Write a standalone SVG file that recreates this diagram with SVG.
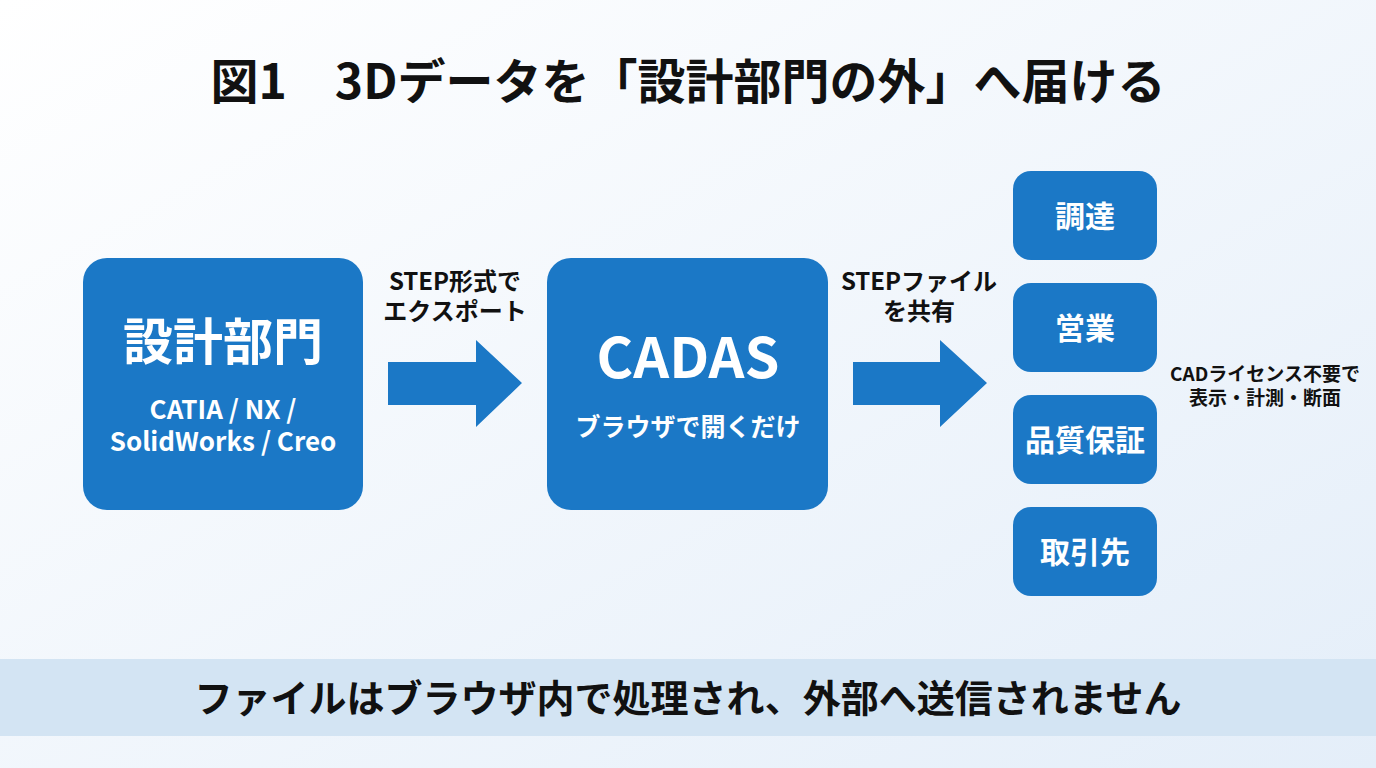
<svg xmlns="http://www.w3.org/2000/svg" width="1376" height="768" viewBox="0 0 1376 768">
<defs>
<linearGradient id="bg" x1="0" y1="0" x2="1" y2="1">
<stop offset="0" stop-color="#ffffff"/>
<stop offset="1" stop-color="#e4eef9"/>
</linearGradient>
<style>
text{font-family:"Noto Sans CJK JP","Noto Sans",sans-serif;font-weight:700;text-anchor:middle}
.box{fill:#1b78c6}
.w{fill:#ffffff}
.k{fill:#111111}
.arrow{fill:#1b78c6}
</style>
</defs>
<rect width="1376" height="768" fill="url(#bg)"/>
<text x="688" y="99" font-size="48" font-weight="900" class="k">図1　3Dデータを「設計部門の外」へ届ける</text>

<g id="design">
<rect class="box" x="83" y="258" width="280" height="252" rx="24"/>
<text x="223" y="360" font-size="50" class="w">設計部門</text>
<text x="223" y="419" font-size="26" class="w" font-weight="600">CATIA / NX /</text>
<text x="223" y="451" font-size="26" class="w" font-weight="600">SolidWorks / Creo</text>
</g>

<g id="cadas">
<rect class="box" x="547" y="258" width="281" height="252" rx="24"/>
<text x="688" y="378" font-size="56" class="w">CADAS</text>
<text x="688" y="436" font-size="25" class="w" font-weight="600">ブラウザで開くだけ</text>
</g>

<g id="procurement">
<rect class="box" x="1013" y="171" width="144" height="89" rx="18"/>
<text x="1085" y="227" font-size="30" class="w">調達</text>
</g>
<g id="sales">
<rect class="box" x="1013" y="283" width="144" height="89" rx="18"/>
<text x="1085" y="339" font-size="30" class="w">営業</text>
</g>
<g id="qa">
<rect class="box" x="1013" y="395" width="144" height="89" rx="18"/>
<text x="1085" y="451" font-size="30" class="w">品質保証</text>
</g>
<g id="partners">
<rect class="box" x="1013" y="507" width="144" height="89" rx="18"/>
<text x="1085" y="563" font-size="30" class="w">取引先</text>
</g>

<g id="connectors">
<polygon class="arrow" points="388,362 476,362 476,340 522,383 476,427 476,405 388,405"/>
<text x="455" y="290" font-size="24" class="k">STEP形式で</text>
<text x="455" y="320" font-size="24" class="k">エクスポート</text>
<polygon class="arrow" points="853,362 940,362 940,340 987,383 940,427 940,405 853,405"/>
<text x="919" y="290" font-size="24" class="k">STEPファイル</text>
<text x="919" y="320" font-size="24" class="k">を共有</text>
</g>

<g id="note">
<text x="1265" y="381" font-size="19" class="k">CADライセンス不要で</text>
<text x="1265" y="405" font-size="19" class="k">表示・計測・断面</text>
</g>

<g id="footer">
<rect x="0" y="659" width="1376" height="77" fill="#d3e4f3"/>
<text x="688" y="712" font-size="38" font-weight="900" class="k">ファイルはブラウザ内で処理され、外部へ送信されません</text>
</g>
</svg>
